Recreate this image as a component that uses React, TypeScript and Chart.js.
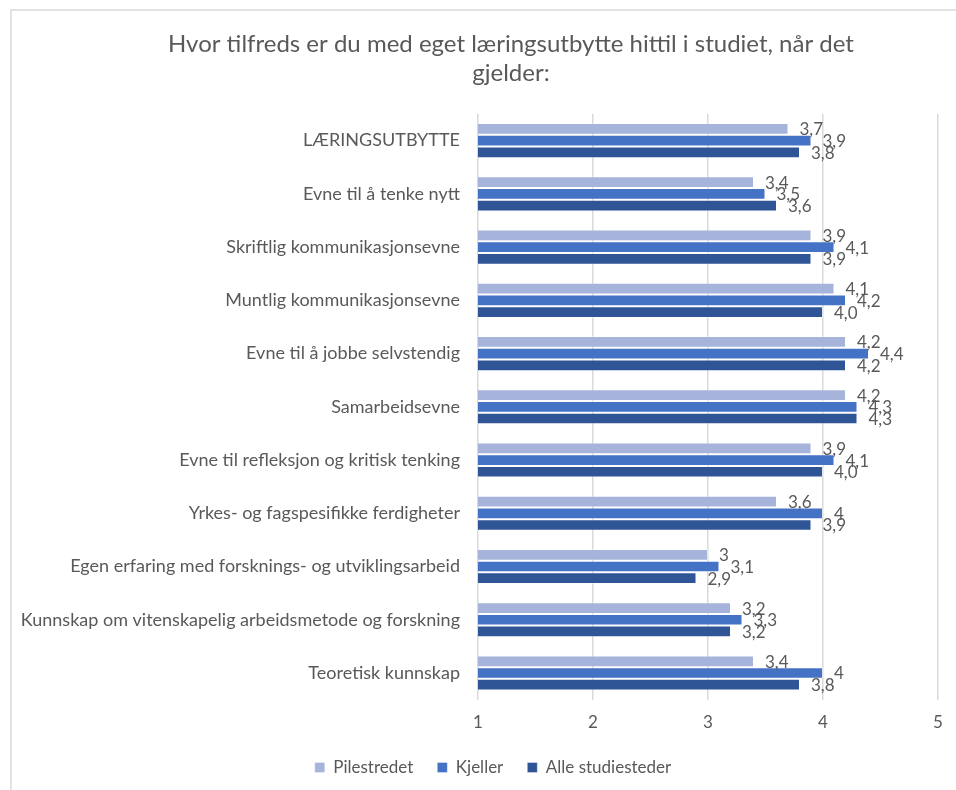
import React, { useEffect, useRef } from "react";
import { Chart, registerables } from "chart.js";

Chart.register(...registerables);

// Survey categories, top to bottom
const categories = [
  "LÆRINGSUTBYTTE",
  "Evne til å tenke nytt",
  "Skriftlig kommunikasjonsevne",
  "Muntlig kommunikasjonsevne",
  "Evne til å jobbe selvstendig",
  "Samarbeidsevne",
  "Evne til refleksjon og kritisk tenking",
  "Yrkes- og fagspesifikke ferdigheter",
  "Egen erfaring med forsknings- og utviklingsarbeid",
  "Kunnskap om vitenskapelig arbeidsmetode og forskning",
  "Teoretisk kunnskap",
];

const pilestredet = [3.7, 3.4, 3.9, 4.1, 4.2, 4.2, 3.9, 3.6, 3, 3.2, 3.4];
const kjeller = [3.9, 3.5, 4.1, 4.2, 4.4, 4.3, 4.1, 4, 3.1, 3.3, 4];
const alleStudiesteder = [3.8, 3.6, 3.9, 4.0, 4.2, 4.3, 4.0, 3.9, 2.9, 3.2, 3.8];

const seriesNames = ["Pilestredet", "Kjeller", "Alle studiesteder"];
const seriesColors = ["#A6B4DB", "#4472C4", "#2F5597"];

const titleLines = [
  "Hvor tilfreds er du med eget læringsutbytte hittil i studiet, når det",
  "gjelder:",
];

const xMin = 1;
const xMax = 5;

const FONT = "Lato, 'Open Sans', sans-serif";
const TEXT = "#595959";

const fmtGeneral = (v: number) => String(v).replace(".", ",");
const fmtOneDecimal = (v: number) => v.toFixed(1).replace(".", ",");
const labelFormats = [fmtGeneral, fmtGeneral, fmtOneDecimal];

// Writes each bar's value just past its end
const valueLabels = {
  id: "valueLabels",
  afterDatasetsDraw(chart: any) {
    const ctx = chart.ctx;
    ctx.save();
    ctx.font = `17px ${FONT}`;
    ctx.fillStyle = TEXT;
    ctx.textAlign = "left";
    ctx.textBaseline = "middle";
    chart.data.datasets.forEach((ds: any, di: number) => {
      const meta = chart.getDatasetMeta(di);
      meta.data.forEach((bar: any, i: number) => {
        ctx.fillText(labelFormats[di](ds.data[i]), bar.x + 11, bar.y + 1);
      });
    });
    ctx.restore();
  },
};

// Places the title and legend rows on their own centre lines
const boxShift = {
  id: "boxShift",
  afterLayout(chart: any) {
    const tb = chart.titleBlock;
    if (tb) {
      tb.left += 42;
      tb.right += 42;
    }
    const lg = chart.legend;
    if (lg) {
      lg.left += 24;
      lg.right += 24;
      lg.top -= 11;
      lg.bottom -= 11;
    }
  },
};

export default function App() {
  const canvasRef = useRef<HTMLCanvasElement | null>(null);

  useEffect(() => {
    if (!canvasRef.current) return;
    const chart = new Chart(canvasRef.current, {
      type: "bar",
      data: {
        labels: categories,
        datasets: [pilestredet, kjeller, alleStudiesteder].map((d, i) => ({
          label: seriesNames[i],
          data: d,
          backgroundColor: seriesColors[i],
          borderColor: "rgba(255,255,255,0.35)",
          borderWidth: 1,
          categoryPercentage: 0.66,
          barPercentage: 1,
        })),
      },
      options: {
        indexAxis: "y",
        responsive: false,
        animation: false,
        devicePixelRatio: 1,
        layout: { padding: { left: 0, right: 18, top: 0, bottom: 0 } },
        plugins: {
          title: {
            display: true,
            text: titleLines,
            color: TEXT,
            font: { family: FONT, size: 24, weight: "normal", lineHeight: 29 / 24 },
            padding: { top: 30, bottom: 26 },
          },
          legend: {
            position: "bottom",
            labels: {
              boxWidth: 10,
              boxHeight: 10,
              padding: 24,
              color: TEXT,
              font: { family: FONT, size: 17 },
            },
          },
          tooltip: { enabled: false },
        },
        scales: {
          x: {
            min: xMin,
            max: xMax,
            ticks: {
              stepSize: 1,
              color: TEXT,
              font: { family: FONT, size: 17 },
              padding: 13,
            },
            grid: { color: "#D9D9D9", lineWidth: 1.5, drawTicks: false },
            border: { display: false },
          },
          y: {
            grid: { display: false },
            border: { display: false },
            ticks: {
              color: TEXT,
              font: { family: FONT, size: 18 },
              padding: 10,
            },
            afterFit(scale: any) {
              scale.width = 478;
            },
          },
        },
      },
      plugins: [valueLabels, boxShift],
    } as any);
    return () => chart.destroy();
  }, []);

  return (
    <div
      style={{
        position: "fixed",
        left: 0,
        top: 0,
        width: 956,
        height: 790,
        overflow: "hidden",
        background: "#fff",
      }}
    >
      <div
        style={{
          position: "absolute",
          left: 10,
          top: 9,
          width: 1000,
          height: 1000,
          border: "2px solid #E3E3E3",
        }}
      />
      <canvas
        ref={canvasRef}
        width={956}
        height={797}
        style={{ position: "absolute", left: 0, top: 0 }}
      />
    </div>
  );
}
